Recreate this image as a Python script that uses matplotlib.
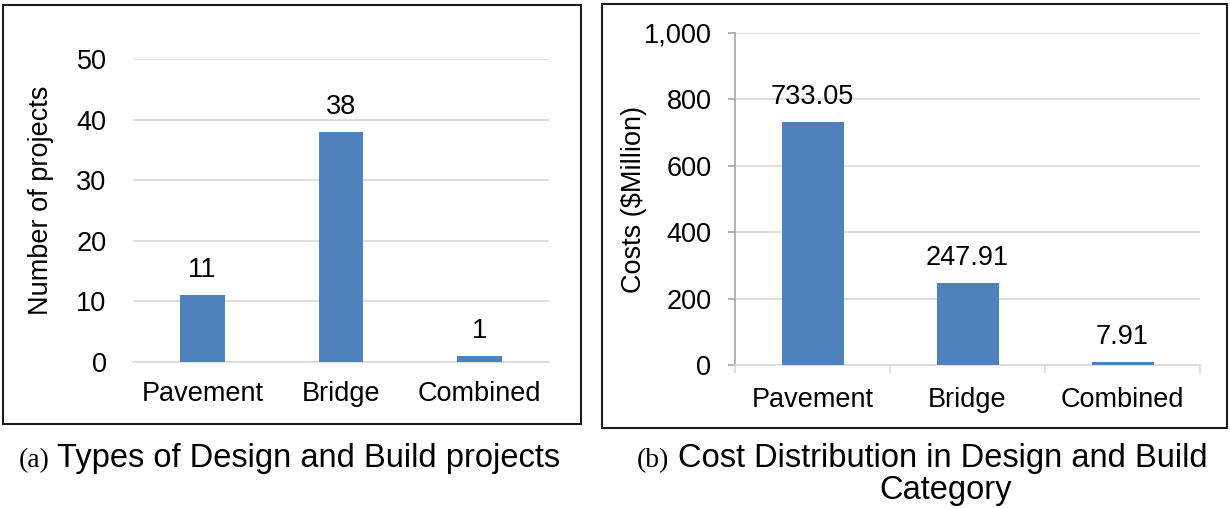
import matplotlib.pyplot as plt
from matplotlib.patches import Rectangle
from matplotlib.ticker import FuncFormatter

categories = ["Pavement", "Bridge", "Combined"]
n_projects = [11, 38, 1]
costs = [733.05, 247.91, 7.91]
cost_labels = ["733.05", "247.91", "7.91"]

W, H = 1230, 508
BLUE = "#4F81BD"
GRID = "#D9D9D9"
AXGREY = "#A6A6A6"
FS = 19.5

plt.rcParams['font.family'] = ['Liberation Sans', 'DejaVu Sans']

fig = plt.figure(figsize=(W / 100, H / 100), dpi=100)


def px_axes(x0, y0, x1, y1):
    # pixel box (top-left origin) -> figure fraction
    return fig.add_axes([x0 / W, 1 - y1 / H, (x1 - x0) / W, (y1 - y0) / H])


def px_box(x0, y0, x1, y1):
    r = Rectangle((x0 / W, 1 - y1 / H), (x1 - x0) / W, (y1 - y0) / H,
                  transform=fig.transFigure, fill=False, edgecolor="#1a1a1a", linewidth=1.5)
    fig.add_artist(r)


# panel frames
px_box(3, 5, 581, 424)
px_box(602, 4, 1227, 428)

# ---- (a) number of projects
ax1 = px_axes(133, 59, 549, 362)
x = range(len(categories))
ax1.bar(x, n_projects, width=0.32, color=BLUE, zorder=3)
ax1.set_xlim(-0.5, 2.5)
ax1.set_ylim(0, 50)
ax1.set_yticks([0, 10, 20, 30, 40, 50])
ax1.set_xticks(list(x))
ax1.set_xticklabels(categories)
ax1.grid(axis='y', color=GRID, linewidth=1.2, zorder=0)
for s in ["top", "right", "left"]:
    ax1.spines[s].set_visible(False)
ax1.spines["bottom"].set_color(GRID)
ax1.spines["bottom"].set_linewidth(1.2)
ax1.tick_params(axis='y', length=0, pad=19, labelsize=FS)
ax1.tick_params(axis='x', length=0, pad=14, labelsize=FS)
ax1.set_ylabel("Number of projects", fontsize=FS)
ax1.yaxis.set_label_coords(-0.19, 0.535)
for i, v in enumerate(n_projects):
    ax1.annotate(str(v), (i, v), xytext=(0, 13), textcoords="offset points",
                 ha="center", va="baseline", fontsize=FS)

# ---- (b) costs
ax2 = px_axes(735, 33, 1200, 365)
ax2.bar(x, costs, width=0.4, color=BLUE, zorder=3)
ax2.set_xlim(-0.5, 2.5)
ax2.set_ylim(0, 1000)
ax2.set_yticks([0, 200, 400, 600, 800, 1000])
ax2.yaxis.set_major_formatter(FuncFormatter(lambda v, p: f"{int(v):,}"))
ax2.set_xticks(list(x))
ax2.set_xticklabels(categories)
ax2.set_xticks([-0.5, 0.5, 1.5, 2.5], minor=True)
ax2.grid(axis='y', color=GRID, linewidth=1.2, zorder=0)
for s in ["top", "right"]:
    ax2.spines[s].set_visible(False)
ax2.spines["left"].set_color(AXGREY)
ax2.spines["bottom"].set_color(GRID)
ax2.spines["left"].set_linewidth(1.2)
ax2.spines["bottom"].set_linewidth(1.2)
ax2.tick_params(axis='y', length=5, width=1.2, color=AXGREY, pad=12, labelsize=FS)
ax2.tick_params(axis='x', which='major', length=0, pad=16, labelsize=FS)
ax2.tick_params(axis='x', which='minor', length=6, width=1.2, color=GRID)
ax2.set_ylabel("Costs ($Million)", fontsize=FS)
ax2.yaxis.set_label_coords(-0.189, 0.497)
for i, (v, lab) in enumerate(zip(costs, cost_labels)):
    ax2.annotate(lab, (i, v), xytext=(0, 13), textcoords="offset points",
                 ha="center", va="baseline", fontsize=FS)

# ---- captions
CFS = 23.5
fig.text(50 / W, 1 - 467 / H, "(a)", fontsize=20, family="Liberation Serif", ha="right", va="baseline")
fig.text(57 / W, 1 - 467 / H, "Types of Design and Build projects", fontsize=CFS, va="baseline")
fig.text(669 / W, 1 - 467 / H, "(b)", fontsize=20, family="Liberation Serif", ha="right", va="baseline")
fig.text(678 / W, 1 - 467 / H, "Cost Distribution in Design and Build", fontsize=CFS, va="baseline")
fig.text(946 / W, 1 - 499 / H, "Category", fontsize=CFS, ha="center", va="baseline")

fig.savefig("out.png", dpi=100)
